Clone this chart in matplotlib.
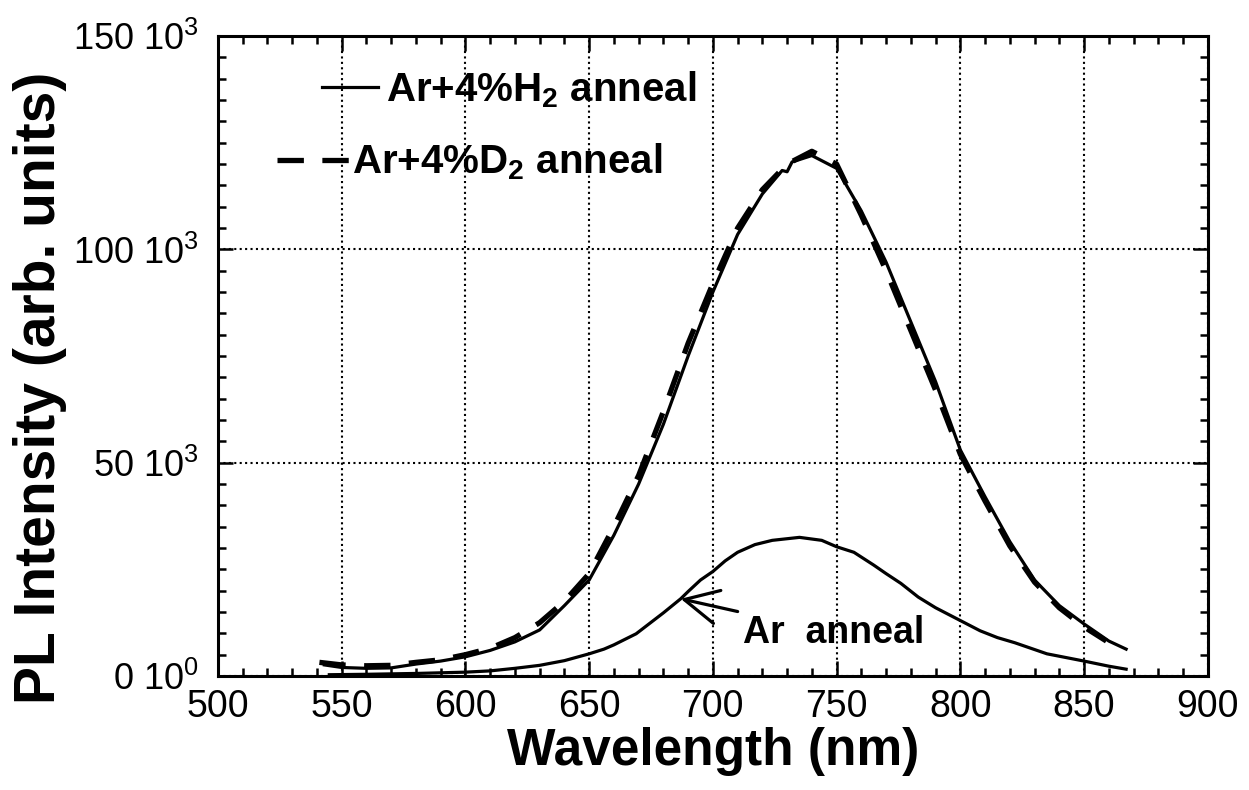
import matplotlib
matplotlib.use("Agg")
import matplotlib.pyplot as plt
from matplotlib.lines import Line2D
from matplotlib.ticker import MultipleLocator, FixedLocator, FixedFormatter

plt.rcParams["font.family"] = ["Liberation Sans", "DejaVu Sans"]
plt.rcParams["mathtext.fontset"] = "custom"
plt.rcParams["mathtext.rm"] = "Liberation Sans"
plt.rcParams["mathtext.bf"] = "Liberation Sans:bold"
plt.rcParams["mathtext.default"] = "regular"

# --- Daten ---
wl_h2 = [543, 550, 560, 570, 580, 590, 600, 610, 620, 630, 640, 650, 660, 670,
         680, 690, 700, 710, 720, 728, 730, 732, 740, 750, 760, 770, 780, 790,
         800, 810, 820, 830, 840, 850, 860, 867]
pl_h2 = [2600, 2000, 1800, 1900, 2800, 3500, 4500, 6000, 8000, 10800, 16500,
         22500, 33000, 45000, 59000, 75000, 90000, 103500, 113000, 118500,
         118200, 120500, 122000, 119000, 109000, 97000, 83000, 69000, 53000,
         42000, 31500, 22500, 16500, 12200, 8200, 6300]

wl_d2 = [541, 550, 560, 570, 580, 590, 600, 610, 620, 630, 640, 650, 660, 670,
         680, 690, 700, 710, 720, 730, 740, 750, 760, 770, 780, 790, 800, 810,
         820, 830, 840, 850, 859]
pl_d2 = [3200, 2600, 2400, 2500, 3200, 3800, 5000, 6500, 9000, 12500, 17500,
         24000, 35000, 47000, 62000, 78000, 92000, 105000, 114000, 120000,
         123000, 120000, 108000, 95000, 81000, 67000, 52000, 41000, 30500,
         22000, 16000, 11500, 8200]

wl_ar = [545, 560, 580, 600, 610, 620, 630, 640, 650, 656, 660, 669, 680, 687,
         690, 695, 700, 705, 710, 717, 724, 735, 744, 750, 757, 765, 770, 776,
         783, 790, 795, 800, 808, 815, 822, 835, 850, 860, 867]
pl_ar = [300, 400, 600, 900, 1200, 1800, 2500, 3600, 5200, 6300, 7300, 9900,
         14800, 18100, 19800, 22500, 24500, 27000, 29000, 30800, 31800, 32500,
         31800, 30300, 29000, 26000, 24000, 21700, 18500, 16000, 14500, 13000,
         10600, 9000, 7800, 5200, 3500, 2300, 1600]

y_ticks = [0, 50000, 100000, 150000]
y_tick_labels = ["0 10$^0$", "50 10$^3$", "100 10$^3$", "150 10$^3$"]
x_ticks = [500, 550, 600, 650, 700, 750, 800, 850, 900]

fig = plt.figure(figsize=(12.49, 7.90), dpi=100)
ax = fig.add_axes([0.1745, 0.1443, 0.7925, 0.81])

ax.plot(wl_h2, pl_h2, color="black", lw=2.3, solid_joinstyle="round")
ax.plot(wl_d2, pl_d2, color="black", lw=3.8, linestyle=(0, (5, 3.5)))
ax.plot(wl_ar, pl_ar, color="black", lw=2.3, solid_joinstyle="round")

ax.set_xlim(500, 900)
ax.set_ylim(0, 150000)
ax.xaxis.set_major_locator(FixedLocator(x_ticks))
ax.xaxis.set_minor_locator(MultipleLocator(10))
ax.yaxis.set_major_locator(FixedLocator(y_ticks))
ax.yaxis.set_major_formatter(FixedFormatter(y_tick_labels))
ax.yaxis.set_minor_locator(MultipleLocator(5000))

ax.tick_params(which="both", direction="in", top=True, right=True,
               width=1.8, color="black")
ax.tick_params(axis="x", labelsize=27)
ax.tick_params(axis="y", labelsize=26)
ax.tick_params(which="major", length=11, pad=9)
ax.tick_params(which="minor", length=6)
ax.tick_params(axis="y", which="major", pad=14)
for sp in ax.spines.values():
    sp.set_linewidth(2.2)

ax.grid(True, which="major", color="black", linestyle=(0, (1, 1.6)), lw=1.5)

ax.set_xlabel("Wavelength (nm)", fontsize=37, fontweight="bold", labelpad=2)
ax.set_ylabel("PL Intensity (arb. units)", fontsize=41, fontweight="bold")
ax.yaxis.set_label_coords(-0.152, 0.45)

# Legende: zwei Eintraege, leicht versetzt wie im Original
h_solid = Line2D([], [], color="black", lw=2.3)
h_dash = Line2D([], [], color="black", lw=3.8, linestyle=(0, (5, 3.5)))
leg1 = ax.legend([h_solid], ["Ar+4%H$_\\mathbf{2}$ anneal"], loc="center left",
                 bbox_to_anchor=(0.105, 0.916), frameon=False, borderpad=0,
                 borderaxespad=0, handlelength=1.4, handletextpad=0.2,
                 prop={"size": 29, "weight": "bold"})
ax.add_artist(leg1)
ax.legend([h_dash], ["Ar+4%D$_\\mathbf{2}$ anneal"], loc="center left",
          bbox_to_anchor=(0.06, 0.803), frameon=False, borderpad=0,
          borderaxespad=0, handlelength=1.8, handletextpad=0.05,
          prop={"size": 29, "weight": "bold"})

ax.annotate("Ar  anneal", xy=(687, 18100), xytext=(712, 10100),
            fontsize=27, fontweight="bold", va="center", ha="left",
            arrowprops=dict(arrowstyle="->,head_length=0.9,head_width=0.45",
                            color="black", lw=2.3, shrinkA=2, shrinkB=0))

fig.savefig("out.png", dpi=100)
